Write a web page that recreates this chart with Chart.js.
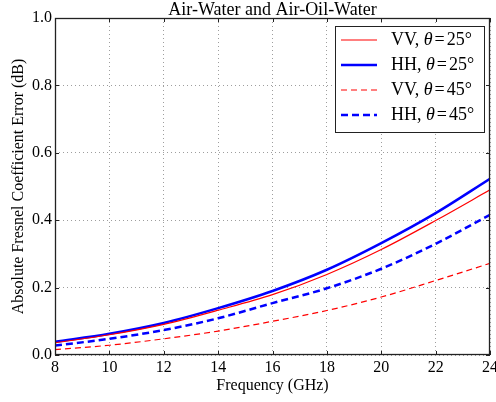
<!DOCTYPE html>
<html>
<head>
<meta charset="utf-8">
<script src="https://cdn.jsdelivr.net/npm/chart.js@4"></script>
<style>
  body { margin: 0; background: #fff; }
</style>
</head>
<body>
<canvas id="chart" width="496" height="402"></canvas>
<script>
const freqs = [8, 10, 12, 14, 16, 18, 20, 22, 24];
const vv25 = [0.036, 0.060, 0.091, 0.133, 0.179, 0.239, 0.313, 0.399, 0.490];
const hh25 = [0.039, 0.063, 0.095, 0.139, 0.190, 0.253, 0.332, 0.421, 0.523];
const vv45 = [0.016, 0.029, 0.048, 0.071, 0.100, 0.132, 0.172, 0.221, 0.272];
const hh45 = [0.028, 0.048, 0.074, 0.109, 0.154, 0.198, 0.256, 0.330, 0.416];
const labels = ["VV", "HH", "VV", "HH"];
const angles = [25, 25, 45, 45];
const chartTitle = "Air-Water and Air-Oil-Water";

const serif = "'Liberation Serif', 'DejaVu Serif', serif";

const toPoints = (ys) => ys.map((y, i) => ({ x: freqs[i], y }));

const datasets = [
  { label: "VV, θ=25°", data: toPoints(vv25), borderColor: "#ff0000", borderWidth: 1.2, borderDash: [] },
  { label: "HH, θ=25°", data: toPoints(hh25), borderColor: "#0000ff", borderWidth: 2.5, borderDash: [] },
  { label: "VV, θ=45°", data: toPoints(vv45), borderColor: "#ff0000", borderWidth: 1.2, borderDash: [6, 4] },
  { label: "HH, θ=45°", data: toPoints(hh45), borderColor: "#0000ff", borderWidth: 2.5, borderDash: [7, 4] },
].map((d) => ({ ...d, pointRadius: 0, fill: false, cubicInterpolationMode: "monotone" }));

// box around the plot, inward ticks, title over the axes, legend inside the axes
const framePlugin = {
  id: "frame",
  afterDatasetsDraw(chart) {
    const { ctx, chartArea: a, scales } = chart;
    ctx.save();
    ctx.strokeStyle = "#222";
    ctx.lineWidth = 1;
    ctx.beginPath();
    scales.x.ticks.forEach((t) => {
      const x = Math.round(scales.x.getPixelForValue(t.value)) + 0.5;
      ctx.moveTo(x, a.bottom); ctx.lineTo(x, a.bottom - 4);
      ctx.moveTo(x, a.top); ctx.lineTo(x, a.top + 4);
    });
    scales.y.ticks.forEach((t) => {
      const y = Math.round(scales.y.getPixelForValue(t.value)) + 0.5;
      ctx.moveTo(a.left, y); ctx.lineTo(a.left + 4, y);
      ctx.moveTo(a.right, y); ctx.lineTo(a.right - 4, y);
    });
    ctx.stroke();
    ctx.lineWidth = 1.3;
    ctx.strokeRect(a.left + 0.5, a.top + 0.5, a.right - a.left - 1, a.bottom - a.top - 1);

    // title
    ctx.fillStyle = "#000";
    ctx.font = "18px " + serif;
    ctx.textAlign = "center";
    ctx.textBaseline = "alphabetic";
    ctx.fillText(chartTitle, (a.left + a.right) / 2, 15);
    ctx.textAlign = "left";

    // legend
    const bx = 335, by = 26, bw = 149, bh = 106;
    ctx.fillStyle = "#fff";
    ctx.fillRect(bx, by, bw, bh);
    ctx.lineWidth = 1;
    ctx.strokeStyle = "#222";
    ctx.strokeRect(bx + 0.5, by + 0.5, bw, bh);
    chart.data.datasets.forEach((ds, i) => {
      const y = 40 + i * 25;
      ctx.beginPath();
      ctx.strokeStyle = ds.borderColor;
      ctx.lineWidth = ds.borderWidth;
      ctx.setLineDash(ds.borderDash);
      ctx.moveTo(341, y);
      ctx.lineTo(377, y);
      ctx.stroke();
      ctx.setLineDash([]);
      ctx.fillStyle = "#000";
      ctx.textBaseline = "middle";
      let x = 391;
      ctx.font = "18px " + serif;
      const head = labels[i] + ", ";
      ctx.fillText(head, x, y);
      x += ctx.measureText(head).width;
      ctx.font = "italic 18px " + serif;
      ctx.fillText("θ", x, y);
      x += ctx.measureText("θ").width + 2;
      ctx.font = "18px " + serif;
      ctx.fillText("=", x, y);
      x += ctx.measureText("=").width + 2;
      ctx.fillText(angles[i] + "°", x, y);
    });
    ctx.restore();
  },
};

const tickFont = { family: serif, size: 16 };

new Chart(document.getElementById("chart"), {
  type: "line",
  data: { datasets },
  plugins: [framePlugin],
  options: {
    responsive: false,
    animation: false,
    devicePixelRatio: 1,
    layout: { padding: { left: 0, right: 6, top: 18, bottom: 0 } },
    plugins: {
      legend: { display: false },
      tooltip: { enabled: false },
      title: { display: false },
    },
    scales: {
      x: {
        type: "linear",
        min: 8,
        max: 24,
        afterFit: (s) => { s.height = 47; s.paddingLeft = 0; s.paddingRight = 0; },
        ticks: { stepSize: 2, color: "#000", font: tickFont, padding: 3, maxRotation: 0 },
        grid: { color: "rgba(0,0,0,0.38)", lineWidth: 1, drawTicks: false },
        border: { display: false, dash: [1, 3] },
        title: {
          display: true,
          text: "Frequency (GHz)",
          color: "#000",
          font: { family: serif, size: 16 },
          padding: { top: 0, bottom: 7 },
        },
      },
      y: {
        min: 0,
        max: 1,
        afterFit: (s) => { s.width = 55; s.paddingTop = 0; s.paddingBottom = 0; },
        ticks: { stepSize: 0.2, color: "#000", font: tickFont, padding: 3, callback: (v) => v.toFixed(1) },
        grid: { color: "rgba(0,0,0,0.38)", lineWidth: 1, drawTicks: false },
        border: { display: false, dash: [1, 3] },
        title: {
          display: true,
          text: "Absolute Fresnel Coefficient Error (dB)",
          color: "#000",
          font: { family: serif, size: 16 },
          padding: { top: 9, bottom: 0 },
        },
      },
    },
  },
});
</script>
</body>
</html>
